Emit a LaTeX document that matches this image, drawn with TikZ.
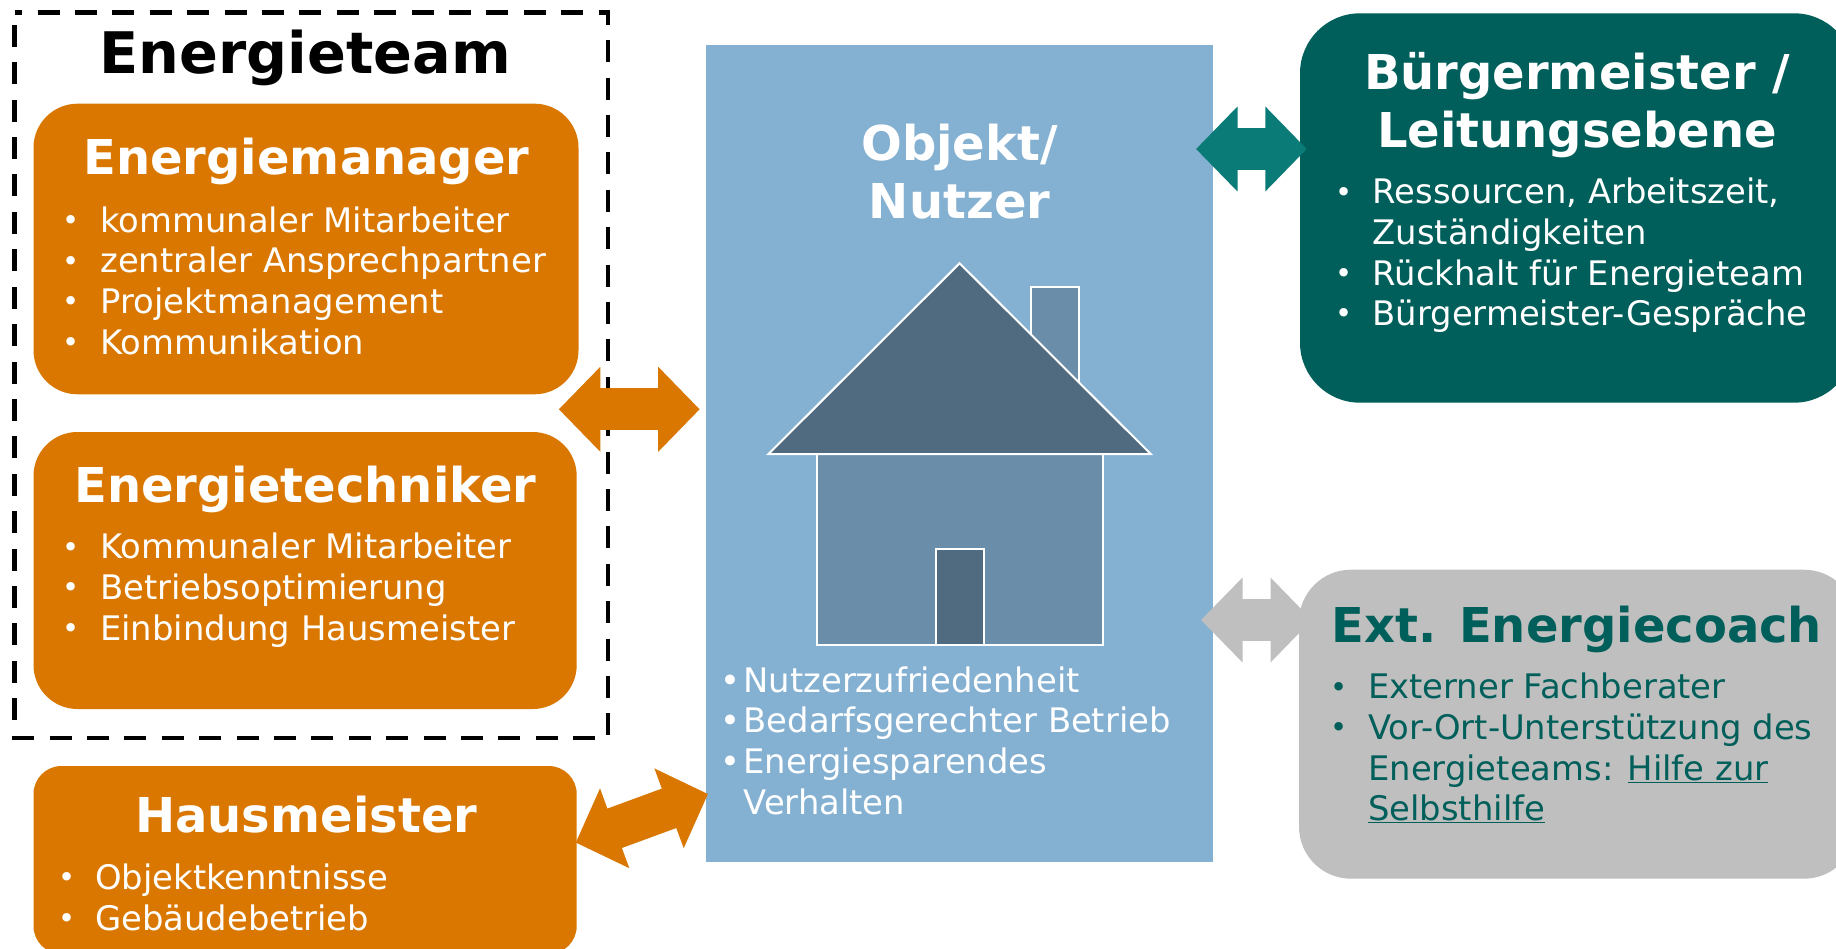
\documentclass[tikz,border=0pt]{standalone}
\usepackage{fontspec}
\setmainfont{DejaVu Sans}
\usetikzlibrary{arrows.meta}
\definecolor{teamorange}{HTML}{D97700}
\definecolor{leadgreen}{HTML}{005F5A}
\definecolor{arrowgreen}{HTML}{0B7B78}
\definecolor{coachgrey}{HTML}{BFBFBF}
\definecolor{objektblue}{HTML}{84B0D2}
\definecolor{wallblue}{HTML}{6A8EA9}
\definecolor{roofblue}{HTML}{506B7F}
\newcommand{\li}[2][39pt]{\hbox to #1{\hskip 9.8pt\raisebox{1.7pt}{\hbox to 0pt{\hss\fontsize{29}{29}\selectfont\textbullet\hss}}\hss}#2}
\newcommand{\lib}[1]{\hbox to 22.6pt{\hskip 9.8pt\hbox to 0pt{\hss\textbullet\hss}\hss}#1}
\begin{document}
\begin{tikzpicture}[
        x=1pt, y=-1pt,
        panel/.style={anchor=north west, inner sep=0pt, outer sep=0pt, rounded corners=#1},
        panel/.default=44pt,
        headtext/.style={anchor=north, inner sep=0pt, align=center, text=white, yshift=-1pt, execute at begin node={\rule{0pt}{40pt}},
            font=\fontsize{48}{58.3}\selectfont\bfseries},
        listtext/.style={anchor=north west, inner sep=0pt, align=left, text=white, yshift=-4.7pt, execute at begin node={\rule{0pt}{30pt}},
            font=\fontsize{33.8}{40.6}\selectfont},
        bigarrow/.style={line width=42pt, {Triangle[length=41.5pt,width=82.5pt]}-{Triangle[length=41.5pt,width=82.5pt]}},
        house/.style={draw=white, line width=2pt, line join=miter}
    ]
    \useasboundingbox (0,0) rectangle (1836,949);
    \clip (0,0) rectangle (1836,949);
    \fill[white] (0,0) rectangle (1836,949);

    % Energieteam frame
    \draw[line width=4.5pt, dash pattern=on 22pt off 15.4pt, dash phase=14.6pt]
        (14.7,12.3) -- (608,12.3) -- (608,738) -- (14.7,738) -- cycle;
    \node[headtext, text=black, font=\fontsize{57.3}{60}\selectfont\bfseries, execute at begin node={\rule{0pt}{46pt}}] (teamhead) at (305.3,26.7) {Energieteam};

    \node[panel, fill=teamorange, minimum width=545pt, minimum height=290.6pt] (manager) at (33.5,103.7) {};
    \node[headtext] (managerhead) at (306.5,133.3) {Energiemanager};
    \node[listtext] (managerlist) at (61.2,201.7) {\li{kommunaler Mitarbeiter}\\\li{zentraler Ansprechpartner}\\\li{Projektmanagement}\\\li{Kommunikation}};

    \node[panel, fill=teamorange, minimum width=543.2pt, minimum height=277pt] (techniker) at (33.5,432) {};
    \node[headtext] (technikerhead) at (305.3,461.7) {Energietechniker};
    \node[listtext] (technikerlist) at (61,528.3) {\li{Kommunaler Mitarbeiter}\\\li{Betriebsoptimierung}\\\li{Einbindung Hausmeister}};

    \node[panel=28pt, fill=teamorange, minimum width=543.2pt, minimum height=188pt] (hausmeister) at (33.5,766) {};
    \node[headtext] (hausmeisterhead) at (306.2,791.7) {Hausmeister};
    \node[listtext] (hausmeisterlist) at (56.8,859) {\li[38.2pt]{Objektkenntnisse}\\\li[38.2pt]{Gebäudebetrieb}};

    % Objekt und Haus
    \node[anchor=north west, inner sep=0pt, outer sep=0pt, fill=objektblue, minimum width=507pt, minimum height=817pt] (objekt) at (706.2,45.3) {};
    \node[headtext] (objekthead) at (959.6,122.5) {Objekt/\\Nutzer};
    \draw[house, fill=wallblue] (1030.9,400) -- (1030.9,287) -- (1079,287) -- (1079,400) -- cycle;
    \draw[house, fill=wallblue] (816.7,454) rectangle (1102.5,644.7);
    \draw[house, fill=roofblue] (959.6,263.3) -- (1150.7,454) -- (768.5,454) -- cycle;
    \draw[house, fill=roofblue] (935.5,549.3) rectangle (983.7,644.7);
    \node[listtext] (objektlist) at (720.8,661.7) {\lib{Nutzerzufriedenheit}\\\lib{Bedarfsgerechter Betrieb}\\\lib{Energiesparendes}\\\hspace*{22.6pt}Verhalten};

    % rechte Spalte
    \node[panel=60pt, fill=leadgreen, minimum width=554pt, minimum height=389.4pt] (leitung) at (1300,13.3) {};
    \node[headtext] (leitunghead) at (1577,50.8) {Bürgermeister /\\Leitungsebene};
    \node[listtext] (leitunglist) at (1334.2,173.3) {\li[38.3pt]{Ressourcen, Arbeitszeit,}\\\hspace*{38.3pt}Zuständigkeiten\\\li[38.3pt]{Rückhalt für Energieteam}\\\li[38.3pt]{Bürgermeister-Gespräche}};

    \node[panel=52pt, fill=coachgrey, minimum width=557pt, minimum height=309pt] (coach) at (1299,569.7) {};
    \node[headtext, text=leadgreen] (coachhead) at (1577,601.7) {Ext. Energiecoach};
    \node[listtext, text=leadgreen] (coachlist) at (1329.2,668.3) {\li[38.8pt]{Externer Fachberater}\\\li[38.8pt]{Vor-Ort-Unterstützung des}\\\hspace*{38.8pt}Energieteams: \underline{Hilfe zur}\\\hspace*{38.8pt}\underline{Selbsthilfe}};

    % Pfeile
    \coordinate (teamport) at (558.8,409.3);
    \coordinate (objektportA) at (699.7,409.3);
    \coordinate (hausmeisterport) at (575.7,842.6);
    \coordinate (objektportB) at (708,794);
    \coordinate (objektportC) at (1196,149);
    \coordinate (leitungport) at (1306.8,149);
    \coordinate (objektportD) at (1201,620);
    \coordinate (coachport) at (1312,620);
    \draw[bigarrow, teamorange] (teamport) -- (objektportA);
    \draw[bigarrow, teamorange] (hausmeisterport) -- (objektportB);
    \draw[bigarrow, arrowgreen] (objektportC) -- (leitungport);
    \draw[bigarrow, coachgrey] (objektportD) -- (coachport);
\end{tikzpicture}
\end{document}
